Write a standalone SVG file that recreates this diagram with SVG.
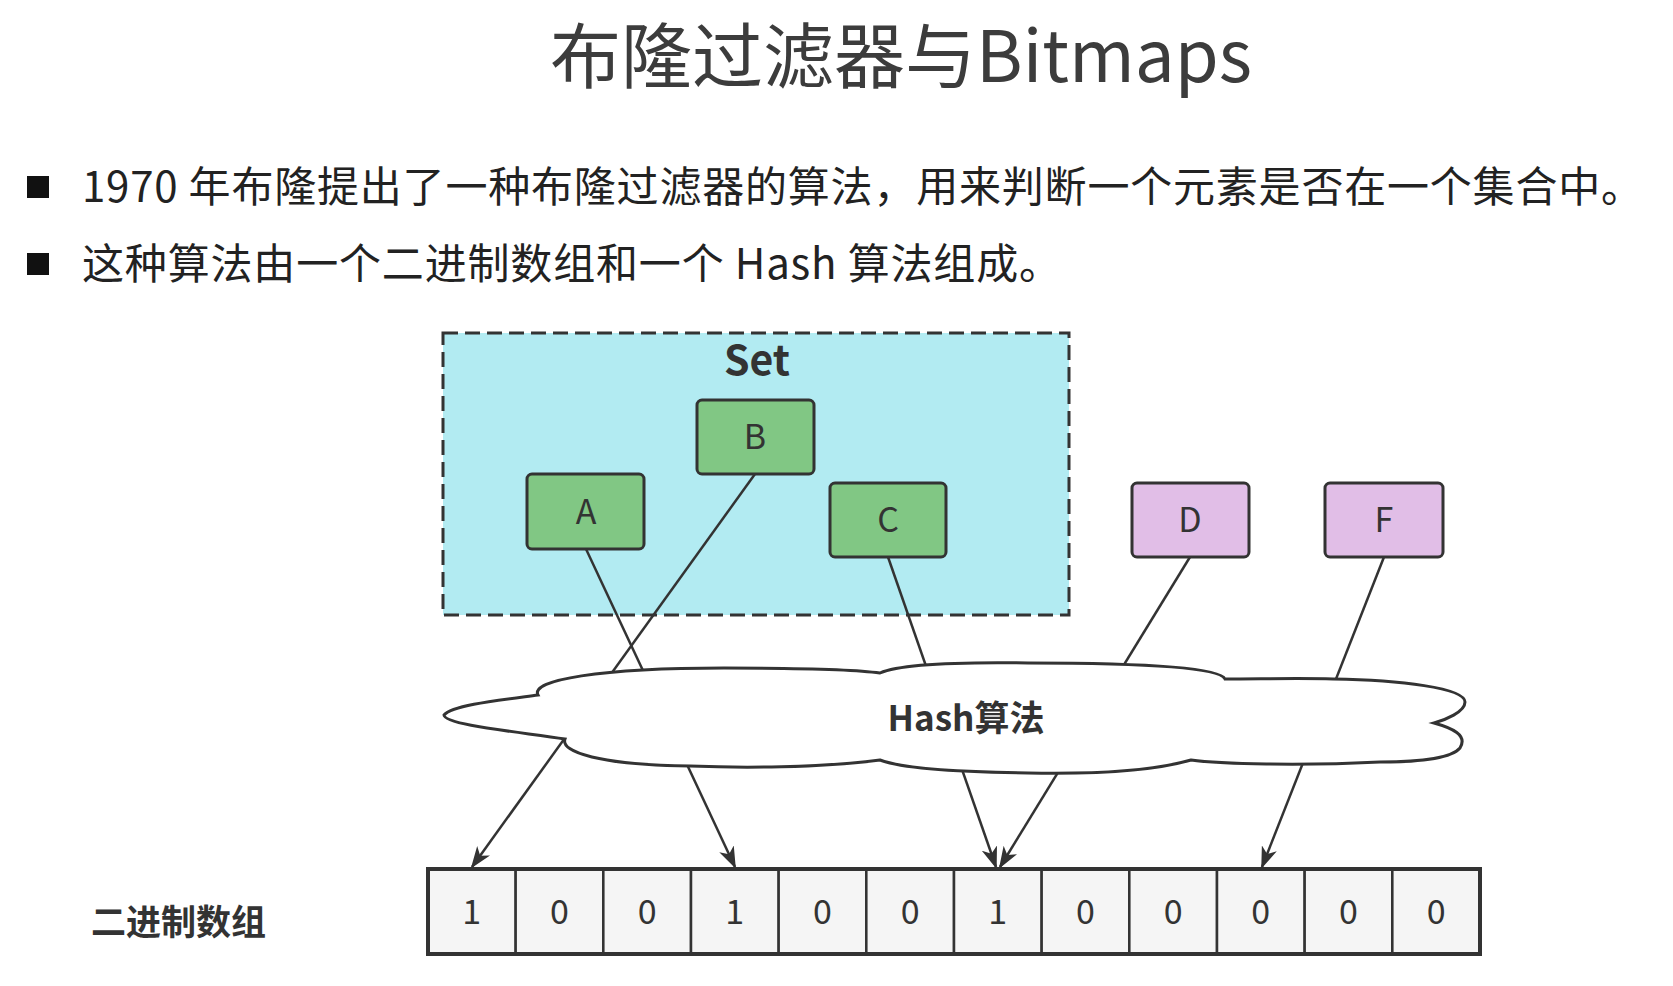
<svg xmlns="http://www.w3.org/2000/svg" width="1673" height="986" viewBox="0 0 1673 986">
<style>
text{font-family:"Noto Sans CJK SC","Noto Sans",sans-serif;fill:#333}
.title{font-size:71px;fill:#3c3c3c}
.bul{font-size:42px;fill:#222}
.lbl{font-size:34px;text-anchor:middle}
.b{font-weight:bold}
.conn{stroke:#333;stroke-width:2.5;fill:none;marker-end:url(#arr)}
.green{fill:#81c784;stroke:#333;stroke-width:3}
.purple{fill:#e1bee7;stroke:#333;stroke-width:3}
.cell{fill:#f5f5f5;stroke:#333;stroke-width:2.5}
</style>
<defs>
<marker id="arr" markerUnits="userSpaceOnUse" viewBox="0 0 22 16" markerWidth="22" markerHeight="16" refX="20" refY="8" orient="auto">
<path d="M0,0 L22,8 L0,16 L6,8 Z" fill="#333"/>
</marker>
</defs>
<rect width="1673" height="986" fill="#fff"/>
<g id="header">
<text class="title" x="901" y="82" text-anchor="middle">布隆过滤器与Bitmaps</text>
<rect x="27" y="176" width="22" height="22" fill="#111"/>
<text class="bul" x="82" y="202" textLength="1561" lengthAdjust="spacing">1970 年布隆提出了一种布隆过滤器的算法，用来判断一个元素是否在一个集合中。</text>
<rect x="27" y="253" width="22" height="22" fill="#111"/>
<text class="bul" x="82" y="279" textLength="979" lengthAdjust="spacing">这种算法由一个二进制数组和一个 Hash 算法组成。</text>
</g>
<g id="set">
<rect x="443" y="333" width="626" height="282" fill="#b2ebf2" stroke="#333" stroke-width="3" stroke-dasharray="15 7"/>
<text class="lbl b" x="757" y="375" style="font-size:41px">Set</text>
</g>
<g id="connectors">
<line class="conn" x1="586" y1="549" x2="735" y2="867"/>
<line class="conn" x1="755" y1="474" x2="472" y2="867"/>
<line class="conn" x1="888" y1="557" x2="996" y2="867"/>
<line class="conn" x1="1190" y1="557" x2="1000" y2="867"/>
<line class="conn" x1="1384" y1="557" x2="1262" y2="867"/>
</g>
<g id="hash">
<path d="M444,715 C452,705 500,700 538,695 C530,680 600,668 724,668 C800,668 860,670 880,673 C900,664 960,662 1028,663 C1150,663 1220,668 1225,679 C1260,679 1300,678 1333,679 C1400,680 1465,688 1465,702 C1465,712 1445,720 1434,723 C1452,728 1468,735 1460,748 C1450,760 1410,762 1380,762 C1300,766 1220,764 1191,760 C1150,772 1080,774 1028,773 C960,772 900,768 880,760 C820,768 740,768 690,766 C600,765 560,752 565,739 C520,732 444,725 444,715 Z" fill="#fff" stroke="#333" stroke-width="3"/>
<text class="lbl b" x="966" y="731" style="font-size:35px">Hash算法</text>
</g>
<g id="nodeA"><rect class="green" x="527" y="474" width="117" height="75" rx="5"/><text class="lbl" x="586" y="524">A</text></g>
<g id="nodeB"><rect class="green" x="697" y="400" width="117" height="74" rx="5"/><text class="lbl" x="755" y="449">B</text></g>
<g id="nodeC"><rect class="green" x="830" y="483" width="116" height="74" rx="5"/><text class="lbl" x="888" y="532">C</text></g>
<g id="nodeD"><rect class="purple" x="1132" y="483" width="117" height="74" rx="5"/><text class="lbl" x="1190" y="532">D</text></g>
<g id="nodeF"><rect class="purple" x="1325" y="483" width="118" height="74" rx="5"/><text class="lbl" x="1384" y="532">F</text></g>
<g id="bitarray">
<rect class="cell" x="428" y="869" width="87.67" height="85"/>
<rect class="cell" x="515.67" y="869" width="87.67" height="85"/>
<rect class="cell" x="603.33" y="869" width="87.67" height="85"/>
<rect class="cell" x="691" y="869" width="87.67" height="85"/>
<rect class="cell" x="778.67" y="869" width="87.67" height="85"/>
<rect class="cell" x="866.33" y="869" width="87.67" height="85"/>
<rect class="cell" x="954" y="869" width="87.67" height="85"/>
<rect class="cell" x="1041.67" y="869" width="87.67" height="85"/>
<rect class="cell" x="1129.33" y="869" width="87.67" height="85"/>
<rect class="cell" x="1217" y="869" width="87.67" height="85"/>
<rect class="cell" x="1304.67" y="869" width="87.67" height="85"/>
<rect class="cell" x="1392.33" y="869" width="87.67" height="85"/>
<rect x="428" y="869" width="1052" height="85" fill="none" stroke="#333" stroke-width="4"/>
<text class="lbl" x="471.8" y="924">1</text>
<text class="lbl" x="559.5" y="924">0</text>
<text class="lbl" x="647.2" y="924">0</text>
<text class="lbl" x="734.8" y="924">1</text>
<text class="lbl" x="822.5" y="924">0</text>
<text class="lbl" x="910.2" y="924">0</text>
<text class="lbl" x="997.8" y="924">1</text>
<text class="lbl" x="1085.5" y="924">0</text>
<text class="lbl" x="1173.2" y="924">0</text>
<text class="lbl" x="1260.8" y="924">0</text>
<text class="lbl" x="1348.5" y="924">0</text>
<text class="lbl" x="1436.2" y="924">0</text>
</g>
<g id="arraylabel">
<text class="b" x="91" y="935" style="font-size:35px">二进制数组</text>
</g>
</svg>
